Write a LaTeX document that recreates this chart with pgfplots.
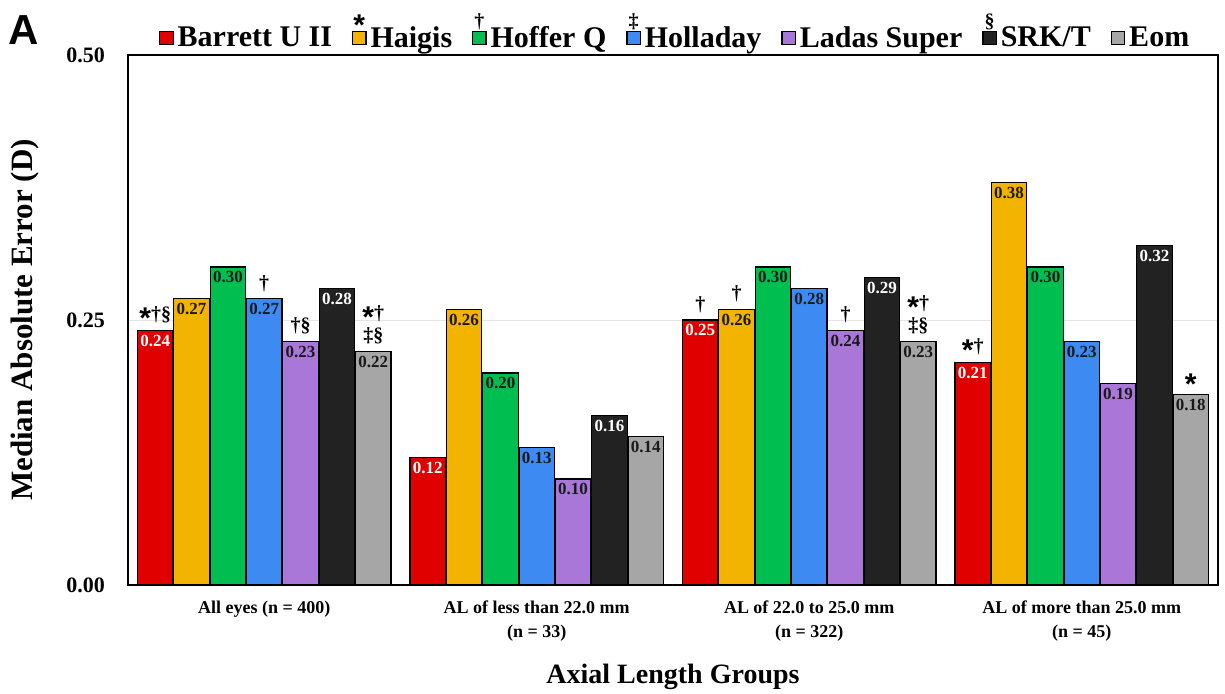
\documentclass[border=0pt]{standalone}
\usepackage{fontspec}
\setmainfont{Liberation Serif}
\newfontfamily\sansA{Liberation Sans}
\usepackage{pgfplots}
\pgfplotsset{compat=1.18}
\definecolor{cR}{HTML}{E00000}
\definecolor{cY}{HTML}{F2B400}
\definecolor{cG}{HTML}{00BF50}
\definecolor{cB}{HTML}{3D8BF2}
\definecolor{cP}{HTML}{A877D8}
\definecolor{cK}{HTML}{222222}
\definecolor{cA}{HTML}{A6A6A6}
\definecolor{txt}{HTML}{1A1A1A}
\protected\def\as{\raisebox{-4pt}[5pt][0pt]{\sansA\bfseries\fontsize{15}{15}\selectfont *}}
\pgfplotsset{
 vals/.style={nodes near coords={\pgfmathprintnumber[fixed,zerofill,precision=2,assume math mode=true]{\pgfplotspointmeta}},
   point meta=y,
   every node near coord/.append style={anchor=north, font=\bfseries\fontsize{8.5}{10}\selectfont, text=#1, inner sep=2pt}},
 sig/.style={draw=none, fill=none, bar shift=0pt, forget plot, point meta=explicit symbolic, nodes near coords,
   every node near coord/.append style={anchor=south, align=center, font=\bfseries\fontsize{10}{11}\selectfont, inner sep=2pt, yshift=1.5pt, text=black}},
 lsq/.style 2 args={legend image code/.code={\draw[fill=#1, draw=black, line width=0.6pt] (0pt,-3.3pt) rectangle (6.6pt,3.3pt);
   \node[anchor=south, inner sep=0pt, font=\bfseries\fontsize{10}{10}\selectfont] at (3.3pt,3.8pt) {#2};}},
 bstyle/.style={fill=#1, draw=black, line width=0.6pt, bar shift=0pt},
}
\begin{document}
\begin{tikzpicture}
\begin{axis}[
 name=ax,
 scale only axis, width=545pt, height=265pt,
 ybar, bar width=0.13,
 xmin=-0.5, xmax=3.5, ymin=0, ymax=0.5,
 ytick={0,0.25,0.5},
 yticklabels={0.00,0.25,0.50},
 xtick={0,1,2,3},
 xticklabels={All eyes (n = 400), AL of less than 22.0 mm\\(n = 33), AL of 22.0 to 25.0 mm\\(n = 322), AL of more than 25.0 mm\\(n = 45)},
 xticklabel style={align=center, font=\bfseries\fontsize{9}{12}\selectfont, yshift=-4.5pt},
 yticklabel style={font=\bfseries\fontsize{11}{13}\selectfont, xshift=-8pt},
 major tick length=0pt,
 axis line style={line width=1pt},
 ymajorgrids, grid style={black!10, line width=0.4pt},
 xlabel={Axial Length Groups},
 xlabel style={at={(axis description cs:0.5,-0.1736)}, anchor=center, font=\bfseries\fontsize{14}{16}\selectfont},
 ylabel={Median Absolute Error (D)},
 ylabel style={at={(axis description cs:-0.0945,0.5)}, anchor=center, font=\bfseries\fontsize{15.5}{18}\selectfont},
 legend columns=7,
 legend style={at={(0.503,1.008)}, anchor=south, draw=none, fill=none, inner sep=0pt,
   font=\bfseries\fontsize{15}{18}\selectfont,
   nodes={inner xsep=2pt, inner ysep=0pt},
   /tikz/every even column/.append style={column sep=8pt}},
]
\addplot[bstyle=cR, vals=white, lsq={cR}{}] coordinates {(-0.4,0.24) (0.6,0.12) (1.6,0.25) (2.6,0.21)};
\addlegendentry{Barrett U II}
\addplot[bstyle=cY, vals=txt, lsq={cY}{\as}] coordinates {(-0.2667,0.27) (0.7333,0.26) (1.7333,0.26) (2.7333,0.38)};
\addlegendentry{Haigis}
\addplot[bstyle=cG, vals=txt, lsq={cG}{†}] coordinates {(-0.1333,0.30) (0.8667,0.20) (1.8667,0.30) (2.8667,0.30)};
\addlegendentry{Hoffer Q}
\addplot[bstyle=cB, vals=txt, lsq={cB}{‡}] coordinates {(0,0.27) (1,0.13) (2,0.28) (3,0.23)};
\addlegendentry{Holladay}
\addplot[bstyle=cP, vals=txt, lsq={cP}{}] coordinates {(0.1333,0.23) (1.1333,0.10) (2.1333,0.24) (3.1333,0.19)};
\addlegendentry{Ladas Super}
\addplot[bstyle=cK, vals=white, lsq={cK}{§}] coordinates {(0.2667,0.28) (1.2667,0.16) (2.2667,0.29) (3.2667,0.32)};
\addlegendentry{SRK/T}
\addplot[bstyle=cA, vals=txt, lsq={cA}{}] coordinates {(0.4,0.22) (1.4,0.14) (2.4,0.23) (3.4,0.18)};
\addlegendentry{Eom}
% significance markers
\addplot[sig] coordinates {(-0.4,0.24) [\as†§] (1.6,0.25) [†] (2.6,0.21) [\as†]};
\addplot[sig] coordinates {(1.7333,0.26) [†]};
\addplot[sig] coordinates {(0,0.27) [†]};
\addplot[sig] coordinates {(0.1333,0.23) [†§] (2.1333,0.24) [†]};
\addplot[sig] coordinates {(0.4,0.22) [\as†\\‡§] (2.4,0.23) [\as†\\‡§] (3.4,0.18) [\as]};
\end{axis}
\node[font=\sansA\bfseries\fontsize{21}{21}\selectfont] at ([xshift=-52pt,yshift=12.5pt]ax.north west) {A};
\pgfresetboundingbox
\path ([xshift=-64pt,yshift=-54.5pt]ax.south west) rectangle ([xshift=3.5pt,yshift=27.5pt]ax.north east);
\end{tikzpicture}
\end{document}
